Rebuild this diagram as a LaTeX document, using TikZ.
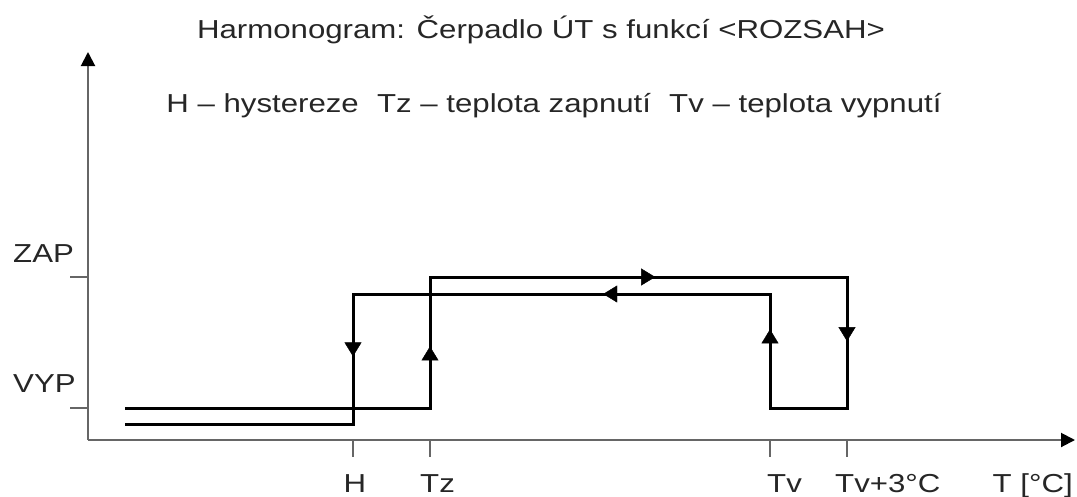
\documentclass[tikz,border=0pt]{standalone}
\usepackage{fontspec}
\setmainfont{Liberation Sans}[FakeStretch=1.2]
\usetikzlibrary{arrows.meta,decorations.markings}

\begin{document}
\begin{tikzpicture}[x=1pt, y=-1pt,
	every node/.style={font=\fontsize{26}{30}\selectfont, text=black!85, inner sep=0pt},
	axis/.style={draw=black!60, line width=2pt},
	axtip/.style={-{Triangle[length=14pt, width=14pt, color=black]}},
	hyst/.style={draw=black, line width=3pt},
	midarr/.style={postaction={decorate}, decoration={markings, mark=at position #1 with {\arrow{Triangle[length=14pt, width=17pt]}}}}]
	\useasboundingbox (0,0) rectangle (1077,496);

	% axes
	\coordinate (O) at (88,440);
	\coordinate (Ytop) at (88,52);
	\coordinate (Xend) at (1075,440);
	\draw[axis, axtip] (O) -- (Ytop);
	\draw[axis, axtip] (O) -- (Xend);
	\foreach \n/\y in {zap/277, vyp/408} {
		\coordinate (\n A) at (88,\y);
		\coordinate (\n B) at (70,\y);
		\draw[axis] (\n A) -- (\n B);
	}
	\foreach \n/\x in {h/353, tz/430, tv/770, tvp/847} {
		\coordinate (\n A) at (\x,440);
		\coordinate (\n B) at (\x,457);
		\draw[axis] (\n A) -- (\n B);
	}

	% hysteresis loop
	\coordinate (S) at (125,408);
	\coordinate (Tz0) at (430,408);
	\coordinate (Tz1) at (430,277);
	\coordinate (Tp1) at (847,277);
	\coordinate (Tp0) at (847,408);
	\coordinate (Tv0) at (770,408);
	\coordinate (Tv1) at (770,294);
	\coordinate (H1) at (353,294);
	\coordinate (H0) at (353,424);
	\coordinate (E) at (125,424);
	\draw[hyst] (S) -- (Tz0) -- (Tz1) -- (Tp1) -- (Tp0) -- (Tv0) -- (Tv1) -- (H1) -- (H0) -- (E);
	\path[midarr=0.47] (Tz0) -- (Tz1);
	\path[midarr=0.54] (Tz1) -- (Tp1);
	\path[midarr=0.49] (Tp1) -- (Tp0);
	\path[midarr=0.69] (Tv0) -- (Tv1);
	\path[midarr=0.40] (Tv1) -- (H1);
	\path[midarr=0.48] (H1) -- (H0);

	% texts
	\node[anchor=base] (title) at (541,38) {Harmonogram: Čerpadlo ÚT s funkcí <ROZSAH>};
	\node[anchor=base] (legend) at (554,112) {H – hystereze\hspace{0.7em}Tz – teplota zapnutí\hspace{0.7em}Tv – teplota vypnutí};
	\node[anchor=base west] (zap) at (13,262) {ZAP};
	\node[anchor=base west] (vyp) at (13,392) {VYP};
	\node[anchor=base] (h) at (355,492) {H};
	\node[anchor=base west] (tz) at (420,492) {Tz};
	\node[anchor=base west] (tv) at (767,492) {Tv};
	\node[anchor=base west] (tvp) at (835,492) {Tv+3°C};
	\node[anchor=base east] (tt) at (1073,492) {T [°C]};
\end{tikzpicture}
\end{document}
